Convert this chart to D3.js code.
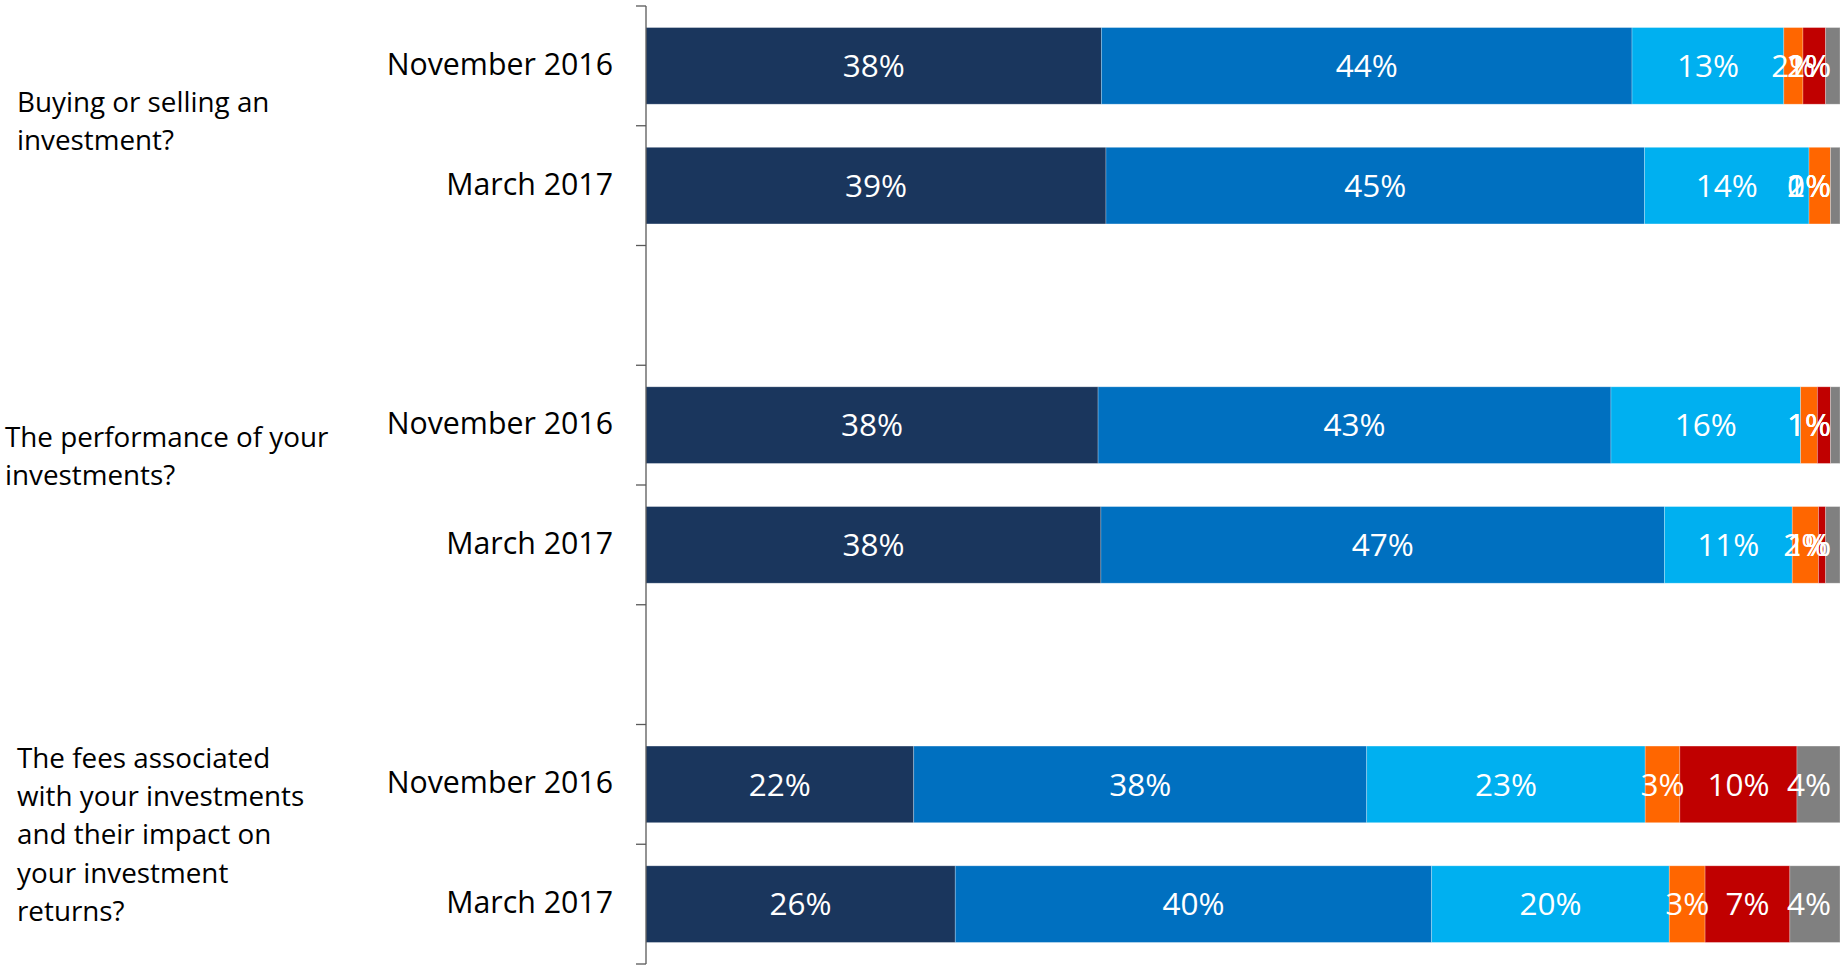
<!DOCTYPE html>
<html>
<head>
<meta charset="utf-8">
<script src="https://cdn.jsdelivr.net/npm/d3@7"></script>
<style>
  html, body { margin: 0; padding: 0; background: #fff; }
  svg { display: block; }
  text { font-family: "Open Sans", "Noto Sans", sans-serif; }
</style>
</head>
<body>
<svg id="chart" width="1845" height="965"></svg>
<script>
// ---- data ----
const periods = ["November 2016", "March 2017"];
const questions = [
  ["Buying or selling an", "investment?"],
  ["The performance of your", "investments?"],
  ["The fees associated", "with your investments", "and their impact on", "your investment", "returns?"]
];
const seriesNames = ["Response 1", "Response 2", "Response 3", "Response 4", "Response 5", "Response 6"];
const seriesColors = ["#1a365d", "#0070c0", "#00b0f0", "#ff6600", "#c00000", "#808080"];
// one value per bar: Q1 Nov, Q1 Mar, Q2 Nov, Q2 Mar, Q3 Nov, Q3 Mar
const s1 = [38.1, 38.6, 37.9, 38.1, 22.4, 25.9];
const s2 = [44.4, 45.2, 43.0, 47.2, 37.9, 39.9];
const s3 = [12.7, 13.8, 15.9, 10.7, 23.3, 19.9];
const s4 = [1.6, 1.8, 1.4, 2.2, 2.9, 3.0];
const s5 = [1.9, 0.0, 1.1, 0.6, 9.8, 7.1];
const s6 = [1.2, 0.8, 0.8, 1.2, 3.6, 4.2];
const seriesValues = [s1, s2, s3, s4, s5, s6];

// ---- build rows (with a spacer slot between questions) ----
const slots = [];
questions.forEach((q, qi) => {
  periods.forEach((p, pi) => {
    const row = { key: "q" + qi + "p" + pi, period: p, question: qi };
    seriesNames.forEach((s, si) => { row[s] = seriesValues[si][qi * 2 + pi]; });
    slots.push(row);
  });
  if (qi < questions.length - 1) slots.push({ key: "gap" + qi, spacer: true });
});
const rows = slots.filter(d => !d.spacer);

const svg = d3.select("#chart");
const x = d3.scaleLinear().domain([0, 1]).range([646, 1840]);
const y = d3.scaleBand().domain(slots.map(d => d.key)).range([6, 964]).paddingInner(0.36).paddingOuter(0.18);
const color = d3.scaleOrdinal().domain(seriesNames).range(seriesColors);

const stack = d3.stack().keys(seriesNames).offset(d3.stackOffsetExpand);
const stacked = stack(rows);

// bars
const layer = svg.append("g").selectAll("g").data(stacked).join("g").attr("fill", d => color(d.key));
layer.selectAll("rect").data(d => d.map(v => ({ v, key: d.key }))).join("rect")
  .attr("x", d => x(d.v[0]))
  .attr("y", d => y(d.v.data.key))
  .attr("width", d => Math.max(0, x(d.v[1]) - x(d.v[0])))
  .attr("height", y.bandwidth())
  .attr("stroke", "rgba(255,255,255,0.35)")
  .attr("stroke-width", 0.75);

// value labels
const maxRight = 1831;
const labels = svg.append("g").selectAll("g").data(stacked).join("g");
labels.selectAll("text").data(d => d.map(v => ({ v, key: d.key }))).join("text")
  .attr("x", d => (x(d.v[0]) + x(d.v[1])) / 2)
  .attr("y", d => y(d.v.data.key) + y.bandwidth() / 2)
  .attr("dy", "0.36em")
  .attr("text-anchor", "middle")
  .attr("fill", "#fff")
  .attr("font-size", 31.5)
  .text(d => Math.round(d.v.data[d.key]) + "%")
  .each(function(d) {
    const w = this.getComputedTextLength();
    const cx = +this.getAttribute("x");
    if (cx + w / 2 > maxRight) this.setAttribute("x", maxRight - w / 2);
  });

// axis line and ticks at slot boundaries
const axisX = x(0);
const ax = svg.append("g").attr("stroke", "#595959").attr("stroke-width", 1.3);
ax.append("line").attr("x1", axisX).attr("x2", axisX).attr("y1", y.range()[0]).attr("y2", y.range()[1]);
const boundaries = slots.map(d => y(d.key) - y.step() * y.paddingOuter()).concat([y.range()[1]]);
ax.selectAll("line.tick").data(boundaries).join("line").attr("class", "tick")
  .attr("x1", axisX - 10).attr("x2", axisX).attr("y1", d => d).attr("y2", d => d);

// period labels
svg.append("g").selectAll("text").data(rows).join("text")
  .attr("x", axisX - 33)
  .attr("y", d => y(d.key) + y.bandwidth() / 2)
  .attr("dy", "0.3em")
  .attr("text-anchor", "end")
  .attr("font-size", 30.3)
  .attr("fill", "#000")
  .text(d => d.period);

// question labels
const qPos = [{ x: 17, y: 102 }, { x: 5, y: 437 }, { x: 17, y: 758 }];
questions.forEach((lines, qi) => {
  const t = svg.append("text")
    .attr("x", qPos[qi].x)
    .attr("y", qPos[qi].y)
    .attr("font-size", 27.8)
    .attr("fill", "#000");
  lines.forEach((ln, li) => {
    t.append("tspan").attr("x", qPos[qi].x).attr("y", qPos[qi].y + li * 38.3).attr("dy", "0.35em").text(ln);
  });
});
</script>
</body>
</html>
